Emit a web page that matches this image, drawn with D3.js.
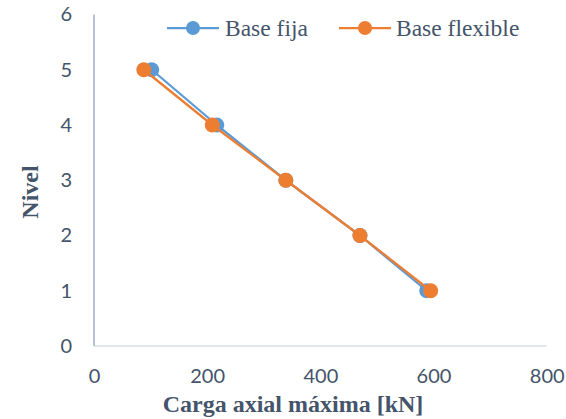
<!DOCTYPE html>
<html><head><meta charset="utf-8">
<script src="https://cdn.jsdelivr.net/npm/d3@7"></script>
<style>body{margin:0;background:#fff;} svg{display:block;}</style>
</head><body>
<svg id="c" width="566" height="419"></svg>
<script>
const levels = [5, 4, 3, 2, 1];
const baseFija = [102, 217, 339, 470, 588];
const baseFlexible = [88, 209, 339, 470, 595];
const xTicks = [0, 200, 400, 600, 800];
const yTicks = [0, 1, 2, 3, 4, 5, 6];
const seriesNames = ["Base fija", "Base flexible"];
const colors = ["#5b9bd5", "#ed7d31"];
const xTitle = "Carga axial máxima [kN]";
const yTitle = "Nivel";

const svg = d3.select("#c");
const x = d3.scaleLinear().domain([0, 800]).range([94, 546.7]);
const y = d3.scaleLinear().domain([0, 6]).range([346, 14.5]);
const textColor = "#44546a";

// axis lines
svg.append("line").attr("x1", x(0)).attr("x2", x(800)).attr("y1", y(0)).attr("y2", y(0))
  .attr("stroke", "#d9dde6").attr("stroke-width", 1.5);
svg.append("line").attr("x1", x(0)).attr("x2", x(0)).attr("y1", y(0)).attr("y2", y(6))
  .attr("stroke", "#b4c0d6").attr("stroke-width", 2);

// tick labels
const xAxis = d3.axisBottom(x).tickValues(xTicks).tickSize(0).tickPadding(0).tickFormat(d3.format("d"));
const gx = svg.append("g").attr("transform", `translate(0,${y(0) + 23})`).call(xAxis);
gx.select(".domain").remove();
gx.selectAll("text").attr("font-family", "Lato, 'Open Sans', sans-serif").attr("font-size", 20)
  .attr("fill", textColor).attr("dy", "0.71em");

const yAxis = d3.axisLeft(y).tickValues(yTicks).tickSize(0).tickPadding(0).tickFormat(d3.format("d"));
const gy = svg.append("g").attr("transform", `translate(72,0)`).call(yAxis);
gy.select(".domain").remove();
gy.selectAll("text").attr("font-family", "Lato, 'Open Sans', sans-serif").attr("font-size", 20)
  .attr("fill", textColor);

// titles
svg.append("text").attr("x", 293).attr("y", 412).attr("text-anchor", "middle")
  .attr("font-family", "'Liberation Serif', 'Times New Roman', serif").attr("font-weight", "bold")
  .attr("font-size", 24).attr("fill", textColor).text(xTitle);
svg.append("text").attr("transform", "translate(38,192) rotate(-90)").attr("text-anchor", "middle")
  .attr("font-family", "'Liberation Serif', 'Times New Roman', serif").attr("font-weight", "bold")
  .attr("font-size", 24).attr("fill", textColor).text(yTitle);

// series
const series = [baseFija, baseFlexible];
const line = d3.line().x(d => x(d[0])).y(d => y(d[1]));
series.forEach((vals, i) => {
  const pts = vals.map((v, j) => [v, levels[j]]);
  const g = svg.append("g");
  g.append("path").attr("d", line(pts)).attr("fill", "none").attr("stroke", colors[i])
    .attr("stroke-width", 2.25).attr("stroke-linejoin", "round");
  g.selectAll("circle").data(pts).join("circle").attr("cx", d => x(d[0])).attr("cy", d => y(d[1]))
    .attr("r", 7.5).attr("fill", colors[i]);
});

// legend
const legendItems = [{x0: 167, cx: 193, x1: 219, tx: 225}, {x0: 339, cx: 365, x1: 391, tx: 396}];
legendItems.forEach((it, i) => {
  const g = svg.append("g");
  g.append("line").attr("x1", it.x0).attr("x2", it.x1).attr("y1", 28).attr("y2", 28)
    .attr("stroke", colors[i]).attr("stroke-width", 2.25);
  g.append("circle").attr("cx", it.cx).attr("cy", 28).attr("r", 7).attr("fill", colors[i]);
  g.append("text").attr("x", it.tx).attr("y", 36).attr("font-family", "'Liberation Serif', 'Times New Roman', serif")
    .attr("font-size", 23.5).attr("fill", textColor).text(seriesNames[i]);
});
</script>
</body></html>
